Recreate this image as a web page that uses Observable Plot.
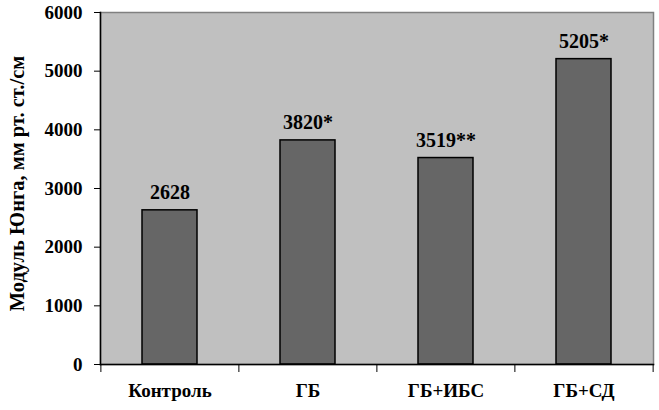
<!DOCTYPE html>
<html><head><meta charset="utf-8">
<script src="https://cdn.jsdelivr.net/npm/d3@7"></script>
<script src="https://cdn.jsdelivr.net/npm/@observablehq/plot@0.6"></script>
<style>body{margin:0;background:#fff} svg text{font-family:"Liberation Serif",Tinos,"Times New Roman","DejaVu Serif",serif !important;font-weight:bold}</style>
</head><body><div id="chart"></div>
<script>
const categories = ["Контроль", "ГБ", "ГБ+ИБС", "ГБ+СД"];
const values = [2628, 3820, 3519, 5205];
const valueLabels = ["2628", "3820*", "3519**", "5205*"];
const yTicks = [0, 1000, 2000, 3000, 4000, 5000, 6000];
const yLabel = "Модуль Юнга, мм рт. ст./см";

const data = categories.map((c, i) => ({cat: c, value: values[i], label: valueLabels[i]}));
const W = 659, H = 410, ml = 100, mr = 6, mt = 12, mb = 46;
const step = (W - ml - mr) / categories.length;
const font = '"Liberation Serif", Tinos, "Times New Roman", "DejaVu Serif", serif';

const chart = Plot.plot({
  width: W, height: H, marginLeft: ml, marginRight: mr, marginTop: mt, marginBottom: mb,
  style: {fontFamily: font, fontWeight: "bold", background: "#fff", color: "#000", overflow: "visible"},
  x: {domain: categories, paddingInner: 0.6, paddingOuter: 0.3, axis: null},
  y: {domain: [0, 6000], axis: null},
  marks: [
    Plot.frame({fill: "#c0c0c0", stroke: "#808080", strokeWidth: 1.5}),
    Plot.barY(data, {x: "cat", y: "value", fill: "#666666", stroke: "#000", strokeWidth: 1.5}),
    Plot.text(data, {x: "cat", y: "value", text: "label", dy: -11, lineAnchor: "bottom", fontSize: 20, fontFamily: font, fontWeight: "bold", fill: "#000"}),
    Plot.frame({anchor: "left", stroke: "#000", strokeWidth: 1.5}),
    Plot.frame({anchor: "bottom", stroke: "#000", strokeWidth: 1.5}),
    Plot.axisY({ticks: yTicks, tickSize: 6, tickPadding: 12, fontSize: 19, fontFamily: font, fontWeight: "bold", label: null, tickFormat: d => String(d), stroke: "#000"}),
    Plot.axisX({tickSize: 8, text: null, dx: -step / 2, label: null, stroke: "#000"}),
    Plot.axisX([categories[categories.length - 1]], {tickSize: 8, text: null, dx: step / 2, label: null, stroke: "#000"}),
    Plot.axisX({tickSize: 0, tickPadding: 19, fontSize: 19, fontFamily: font, fontWeight: "bold", label: null}),
    Plot.text([yLabel], {frameAnchor: "left", textAnchor: "middle", rotate: -90, dx: -83, dy: -5, fontSize: 20.5, fontFamily: font, fontWeight: "bold", fill: "#000"})
  ]
});
document.getElementById("chart").append(chart);
</script>
</body></html>
